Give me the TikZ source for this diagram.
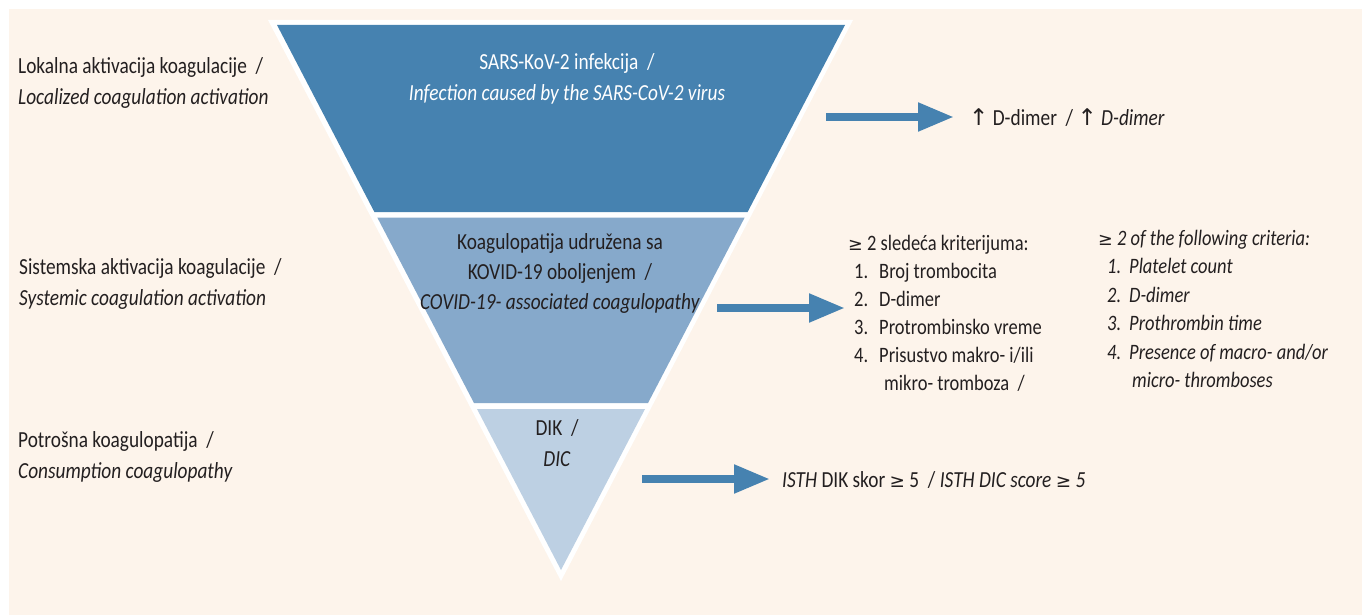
\documentclass[tikz,border=0pt]{standalone}
\usepackage{fontspec}
\setmainfont{Carlito}[FakeStretch=0.84]
\newfontfamily\symf{DejaVu Sans}[Scale=0.8]
\newfontfamily\uparr{DejaVu Sans}[Scale=1.0]
\usetikzlibrary{arrows.meta}
\definecolor{peach}{HTML}{FDF4EB}
\definecolor{darkblue}{HTML}{4682B0}
\definecolor{midblue}{HTML}{86A9CB}
\definecolor{lightblue}{HTML}{BDD0E3}
\definecolor{inkgray}{HTML}{231F20}
\tikzset{
  txt/.style={inner sep=0pt, text=inkgray, font=\fontsize{23}{31}\selectfont},
  toarrow/.style={draw=darkblue, line width=8pt, -{Triangle[length=36pt,width=27pt]}},
}
\newcommand{\numbox}[2]{\makebox[#1][l]{#2}}

\begin{document}
\begin{tikzpicture}[x=1pt, y=-1pt]
\useasboundingbox (0,0) rectangle (1362,615);
\fill[peach] (9,9) rectangle (1362,615);
\fill[white] (268,20) -- (853,20) -- (561,581) -- cycle;
\fill[darkblue] (277,25) -- (845,25) -- (747.6,212) -- (374.4,212) -- cycle;
\fill[midblue] (377.3,217.5) -- (744.7,217.5) -- (648,403) -- (474,403) -- cycle;
\fill[lightblue] (477,409) -- (645,409) -- (561,570) -- cycle;

\node[txt, anchor=base west, align=left] (lokal) at (18,105) {Lokalna aktivacija koagulacije\ \ /\\\textit{Localized coagulation activation}};
\node[txt, anchor=base west, align=left] (sistem) at (19,305) {Sistemska aktivacija koagulacije\ \ /\\\textit{Systemic coagulation activation}};
\node[txt, anchor=base west, align=left] (potros) at (18,478) {Potrošna koagulopatija\ \ /\\\textit{Consumption coagulopathy}};

\node[txt, text=white, anchor=base, align=center] (sars) at (567,101) {SARS-KoV-2 infekcija\ \ /\\\textit{Infection caused by the SARS-CoV-2 virus}};
\node[txt, anchor=base, align=center, font=\fontsize{23}{30}\selectfont] (cac) at (560,309) {Koagulopatija udružena sa\\KOVID-19 oboljenjem\ \ /\\\textit{COVID-19- associated coagulopathy}};
\node[txt, anchor=base, align=center] (dic) at (557,466) {DIK\ \ /\\\textit{DIC}};

\node[txt, anchor=base west] (ddimer) at (969,125) {{\uparr ↑} D-dimer\ \ / {\uparr ↑} \textit{D-dimer}};
\node[txt, anchor=base west, align=left, font=\fontsize{22}{28}\selectfont] (kriter) at (848,390) {{\symf ≥} 2 sledeća kriterijuma:\\\hspace*{6pt}\numbox{25pt}{1.}Broj trombocita\\\hspace*{6pt}\numbox{25pt}{2.}D-dimer\\\hspace*{6pt}\numbox{25pt}{3.}Protrombinsko vreme\\\hspace*{6pt}\numbox{25pt}{4.}Prisustvo makro- i/ili\\\hspace*{36pt}mikro- tromboza\ \ /};
\node[txt, anchor=base west, align=left, font=\fontsize{22}{28.5}\selectfont\itshape] (criter) at (1098,387.5) {{\symf ≥} 2 of the following criteria:\\\hspace*{9pt}\numbox{22pt}{1.}Platelet count\\\hspace*{9pt}\numbox{22pt}{2.}D-dimer\\\hspace*{9pt}\numbox{22pt}{3.}Prothrombin time\\\hspace*{9pt}\numbox{22pt}{4.}Presence of macro- and/or\\\hspace*{34pt}micro- thromboses};
\node[txt, anchor=base west] (isth) at (782,487) {\textit{ISTH} DIK skor {\symf ≥} 5\ \ / \textit{ISTH DIC score {\symf ≥} 5}};

\coordinate (a1) at (826,117);
\coordinate (a2) at (717,308);
\coordinate (a3) at (642,479);
\path[toarrow, shorten >=15pt] (a1) -- (a1 -| ddimer.west);
\path[toarrow, shorten >=3pt] (a2) -- (a2 -| kriter.west);
\path[toarrow, shorten >=12pt] (a3) -- (a3 -| isth.west);
\end{tikzpicture}
\end{document}
